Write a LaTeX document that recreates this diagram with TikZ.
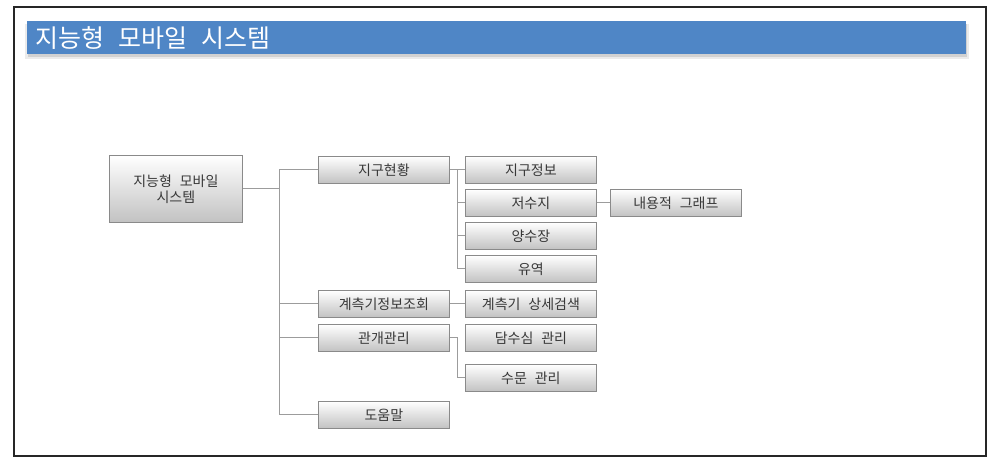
\documentclass[tikz,border=0pt]{standalone}
\usepackage{fontspec}
\setmainfont[WordSpace=2.5]{Noto Sans CJK KR}
\usetikzlibrary{shadows}
\definecolor{titleblue}{HTML}{4F86C6}
\definecolor{linegray}{HTML}{9C9C9C}
\definecolor{boxborder}{HTML}{8A8A8A}
\definecolor{txt}{HTML}{383838}
\begin{document}
\begin{tikzpicture}[x=1pt,y=-1pt,
  box/.style={draw=boxborder, line width=0.8pt, top color=white, bottom color=black!24,
    minimum width=131pt, minimum height=27pt, inner sep=0pt, anchor=north west,
    font=\fontsize{14}{16}\selectfont, text=txt,
    drop shadow={opacity=0.18, shadow xshift=1pt, shadow yshift=-1pt}},
  conn/.style={draw=linegray, line width=1pt}]
\useasboundingbox (0,0) rectangle (1005,475);
\fill[white] (0,0) rectangle (1005,475);
% frame
\draw[line width=2pt, black!85] (14,7) rectangle (986,456);
% title bar
\fill[black!8] (25,24) rectangle (969,59);
\fill[black!18] (28,24) rectangle (967,56.5);
\fill[titleblue] (27,21) rectangle (966,54);
\node[anchor=west, text=white, font=\fontsize{25}{29}\selectfont, inner sep=0pt] (title) at (35,38) {지능형 모바일 시스템};
% nodes
\node[box, minimum width=133pt, minimum height=67pt, align=center] (root) at (109,155) {지능형 모바일\\시스템};
\node[box] (l1a) at (318,156) {지구현황};
\node[box] (l1b) at (318,290) {계측기정보조회};
\node[box] (l1c) at (318,324) {관개관리};
\node[box] (l1d) at (318,401) {도움말};
\node[box] (l2a) at (465,156) {지구정보};
\node[box] (l2b) at (465,189) {저수지};
\node[box] (l2c) at (465,222) {양수장};
\node[box] (l2d) at (465,255) {유역};
\node[box] (l2e) at (465,290) {계측기 상세검색};
\node[box] (l2f) at (465,324) {담수심 관리};
\node[box] (l2g) at (465,364) {수문 관리};
\node[box] (l3) at (610,189) {내용적 그래프};
% connectors
\coordinate (t1) at (279,0);
\coordinate (t2) at (457,0);
\draw[conn] (root.east) -- (t1 |- root.east);
\draw[conn] (t1 |- l1a.west) -- (t1 |- l1d.west);
\draw[conn] (t1 |- l1a.west) -- (l1a.west);
\draw[conn] (t1 |- l1b.west) -- (l1b.west);
\draw[conn] (t1 |- l1c.west) -- (l1c.west);
\draw[conn] (t1 |- l1d.west) -- (l1d.west);
\draw[conn] (l1a.east) -- (l2a.west);
\draw[conn] (t2 |- l2a.west) -- (t2 |- l2d.west);
\draw[conn] (t2 |- l2b.west) -- (l2b.west);
\draw[conn] (t2 |- l2c.west) -- (l2c.west);
\draw[conn] (t2 |- l2d.west) -- (l2d.west);
\draw[conn] (l2b.east) -- (l3.west);
\draw[conn] (l1b.east) -- (l2e.west);
\draw[conn] (l1c.east) -- (t2 |- l1c.east) -- (t2 |- l2g.west) -- (l2g.west);
\end{tikzpicture}
\end{document}
